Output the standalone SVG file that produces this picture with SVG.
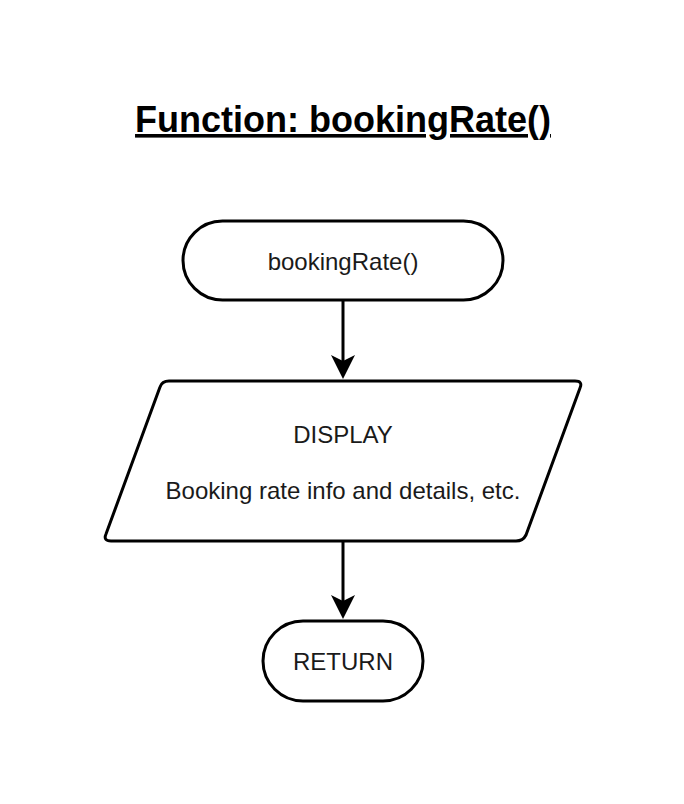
<svg xmlns="http://www.w3.org/2000/svg" width="684" height="804" viewBox="0 0 684 804">
<defs>
<style>
.shape{fill:#fff;stroke:#000;stroke-width:3;stroke-linejoin:round}
.lbl{font-family:"Liberation Sans",Arial,sans-serif;font-size:24px;fill:#1a1a1a;text-anchor:middle}
.edge{fill:none;stroke:#000;stroke-width:3}
</style>
</defs>
<rect width="684" height="804" fill="#fff"/>
<g id="title">
<text x="343" y="132" font-family="'Liberation Sans',Arial,sans-serif" font-size="36" font-weight="bold" text-anchor="middle" text-decoration="underline" fill="#000">Function: bookingRate()</text>
</g>
<g id="start">
<rect class="shape" x="183" y="221" width="320" height="79" rx="39.5"/>
<text class="lbl" x="343" y="270">bookingRate()</text>
</g>
<g id="display">
<path class="shape" d="M169,381 L575,381 Q583,381 580,388 L526,535 Q523,541 516,541 L111,541 Q103,541 106,534 L160,387 Q162,381 169,381 Z"/>
<text class="lbl" x="343" y="443">DISPLAY</text>
<text class="lbl" x="343" y="499">Booking rate info and details, etc.</text>
</g>
<g id="return">
<rect class="shape" x="263" y="621" width="160" height="80" rx="40"/>
<text class="lbl" x="343" y="670">RETURN</text>
</g>
<g id="connectors">
<line class="edge" x1="343" y1="300" x2="343" y2="362"/>
<path d="M343,379 L331,355 L343,361 L355,355 Z" fill="#000"/>
<line class="edge" x1="343" y1="541" x2="343" y2="602"/>
<path d="M343,619 L331,595 L343,601 L355,595 Z" fill="#000"/>
</g>
</svg>
